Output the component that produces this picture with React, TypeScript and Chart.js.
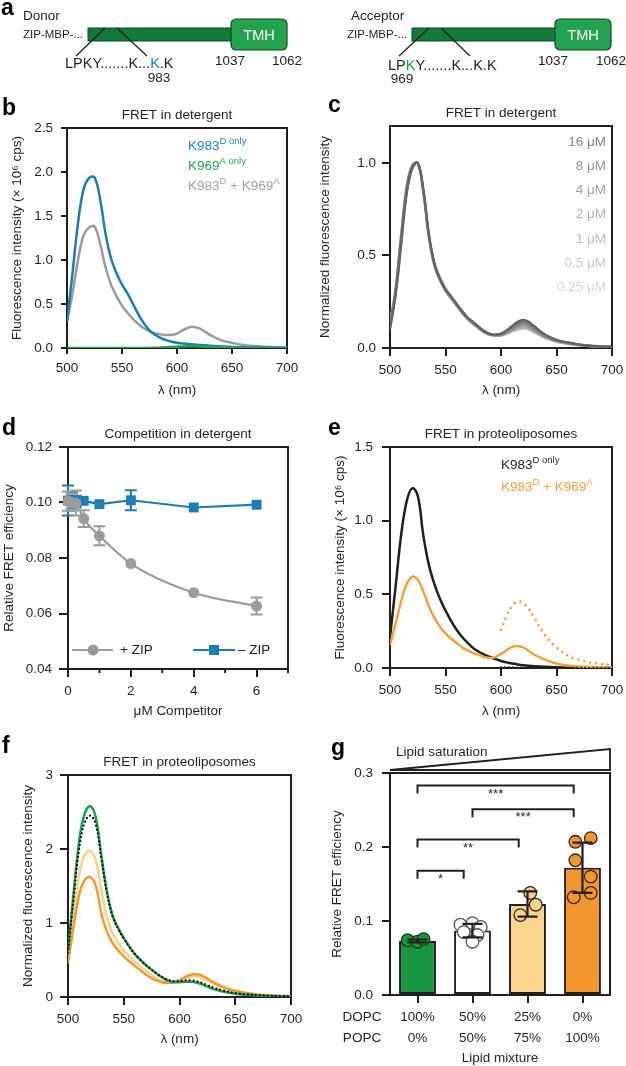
import React, { useEffect, useRef } from "react";
import { Chart, registerables } from "chart.js";

Chart.register(...registerables);

const FONT = "'Liberation Sans', Arial, Helvetica, sans-serif";
const INK = "#231f20";
const FS = 13.5;

// ---------------- data ----------------
const WL = [500, 505, 510, 515, 520, 525, 530, 535, 540, 545, 550, 555, 560, 565, 570, 575, 580, 585, 590, 595, 600, 605, 610, 615, 620, 625, 630, 640, 650, 660, 670, 680, 690, 700];
const WL_TICKS = [500, 550, 600, 650, 700];

// panel b
const B_DONOR = [0.3, 0.85, 1.42, 1.8, 1.93, 1.94, 1.7, 1.3, 1.02, 0.85, 0.72, 0.62, 0.5, 0.38, 0.28, 0.2, 0.15, 0.115, 0.09, 0.072, 0.06, 0.052, 0.045, 0.04, 0.035, 0.03, 0.026, 0.018, 0.012, 0.008, 0.005, 0.003, 0.002, 0.001];
const B_ACCEPTOR = [0, 0, 0, 0, 0, 0, 0, 0, 0, 0, 0, 0, 0, 0, 0, 0, 0.002, 0.005, 0.008, 0.012, 0.015, 0.018, 0.02, 0.02, 0.018, 0.015, 0.012, 0.008, 0.005, 0.003, 0.002, 0.001, 0, 0];
const B_FRET = [0.3, 0.62, 1.0, 1.28, 1.37, 1.38, 1.19, 0.92, 0.72, 0.59, 0.48, 0.4, 0.33, 0.27, 0.225, 0.19, 0.168, 0.155, 0.148, 0.148, 0.165, 0.2, 0.232, 0.24, 0.225, 0.19, 0.15, 0.09, 0.058, 0.035, 0.022, 0.014, 0.009, 0.006];
const B_Y_TICKS = [0, 0.5, 1, 1.5, 2, 2.5];

// panel c
const C_16 = [0.1, 0.28, 0.55, 0.83, 0.97, 1.0, 0.86, 0.62, 0.46, 0.38, 0.32, 0.28, 0.24, 0.2, 0.165, 0.14, 0.115, 0.092, 0.077, 0.072, 0.078, 0.095, 0.12, 0.142, 0.152, 0.142, 0.118, 0.072, 0.045, 0.03, 0.02, 0.013, 0.009, 0.006];
const C_8 = [0.11, 0.3, 0.58, 0.85, 0.98, 1.0, 0.85, 0.61, 0.455, 0.375, 0.318, 0.278, 0.238, 0.198, 0.163, 0.138, 0.113, 0.09, 0.075, 0.071, 0.076, 0.092, 0.115, 0.135, 0.145, 0.136, 0.113, 0.069, 0.043, 0.029, 0.019, 0.012, 0.008, 0.006];
const C_4 = [0.12, 0.31, 0.6, 0.86, 0.98, 1.0, 0.85, 0.605, 0.45, 0.372, 0.315, 0.275, 0.235, 0.196, 0.161, 0.136, 0.111, 0.088, 0.074, 0.07, 0.074, 0.089, 0.11, 0.128, 0.137, 0.129, 0.107, 0.066, 0.041, 0.028, 0.018, 0.012, 0.008, 0.005];
const C_2 = [0.11, 0.29, 0.57, 0.84, 0.97, 1.0, 0.86, 0.61, 0.452, 0.37, 0.313, 0.273, 0.233, 0.194, 0.159, 0.134, 0.109, 0.087, 0.073, 0.069, 0.072, 0.085, 0.104, 0.12, 0.128, 0.121, 0.101, 0.062, 0.039, 0.026, 0.017, 0.011, 0.007, 0.005];
const C_1 = [0.13, 0.32, 0.61, 0.87, 0.99, 1.0, 0.84, 0.6, 0.448, 0.368, 0.31, 0.27, 0.23, 0.191, 0.157, 0.132, 0.107, 0.085, 0.072, 0.068, 0.07, 0.082, 0.099, 0.113, 0.12, 0.114, 0.095, 0.059, 0.037, 0.025, 0.016, 0.011, 0.007, 0.005];
const C_05 = [0.12, 0.3, 0.59, 0.86, 0.98, 1.0, 0.85, 0.6, 0.446, 0.366, 0.308, 0.268, 0.228, 0.189, 0.155, 0.13, 0.105, 0.084, 0.071, 0.067, 0.068, 0.079, 0.094, 0.106, 0.112, 0.107, 0.089, 0.056, 0.035, 0.024, 0.016, 0.01, 0.007, 0.005];
const C_025 = [0.14, 0.33, 0.62, 0.88, 0.99, 1.0, 0.84, 0.595, 0.444, 0.364, 0.306, 0.266, 0.226, 0.187, 0.153, 0.128, 0.104, 0.083, 0.07, 0.066, 0.066, 0.076, 0.089, 0.099, 0.104, 0.1, 0.084, 0.053, 0.033, 0.022, 0.015, 0.01, 0.006, 0.004];
const C_SERIES = [C_16, C_8, C_4, C_2, C_1, C_05, C_025];
const C_LABELS = ["16 μM", "8 μM", "4 μM", "2 μM", "1 μM", "0.5 μM", "0.25 μM"];
const C_LINE_COLORS = ["#646464", "#717171", "#7f7f7f", "#8d8d8d", "#9c9c9c", "#ababab", "#bcbcbc"];
const C_TEXT_COLORS = ["#878787", "#959595", "#a3a3a3", "#b0b0b0", "#bdbdbd", "#c9c9c9", "#d6d6d6"];
const C_Y_TICKS = [0, 0.5, 1];

// panel d
const D_CONC = [0, 0.125, 0.25, 0.5, 1, 2, 4, 6];
const D_ZIP = [0.1005, 0.1, 0.0998, 0.0942, 0.088, 0.078, 0.0675, 0.0627];
const D_ZIP_ERR = [0.0035, 0.003, 0.0045, 0.003, 0.0034, 0, 0, 0.0031];
const D_NOZIP = [0.1007, 0.1008, 0.1003, 0.1006, 0.0994, 0.1008, 0.0982, 0.0992];
const D_NOZIP_ERR = [0.0054, 0.003, 0.002, 0, 0, 0.0036, 0, 0];
const D_X_TICKS = [0, 1, 2, 3, 4, 5, 6, 7];
const D_Y_TICKS = [0.04, 0.06, 0.08, 0.1, 0.12];

// panel e
const E_DONOR = [0.21, 0.55, 0.9, 1.13, 1.22, 1.17, 0.9, 0.7, 0.57, 0.47, 0.39, 0.32, 0.26, 0.21, 0.17, 0.135, 0.11, 0.09, 0.075, 0.06, 0.048, 0.038, 0.03, 0.024, 0.019, 0.015, 0.012, 0.008, 0.005, 0.003, 0.002, 0.001, 0.001, 0];
const E_FRET = [0.156, 0.3, 0.45, 0.57, 0.62, 0.6, 0.52, 0.42, 0.34, 0.28, 0.235, 0.2, 0.17, 0.14, 0.12, 0.1, 0.088, 0.075, 0.068, 0.075, 0.095, 0.12, 0.143, 0.15, 0.14, 0.115, 0.09, 0.055, 0.03, 0.017, 0.01, 0.007, 0.005, 0.004];
const E_ACC_DIRECT = [null, null, null, null, null, null, null, null, null, null, null, null, null, null, null, null, null, null, null, null, 0.26, 0.35, 0.42, 0.45, 0.44, 0.4, 0.34, 0.22, 0.14, 0.085, 0.055, 0.038, 0.028, 0.02];
const E_DONOR_DIRECT = [null, null, null, null, null, null, null, null, null, null, null, null, null, null, null, null, null, null, null, null, 0.004, 0.004, 0.004, 0.003, 0.003, 0.003, 0.002, 0.002, 0.001, 0.001, 0.001, 0, 0, 0];
const E_Y_TICKS = [0, 0.5, 1, 1.5];

// panel f
const F_DOPC = [0.62, 1.4, 2.1, 2.48, 2.58, 2.42, 1.9, 1.42, 1.1, 0.93, 0.8, 0.68, 0.58, 0.5, 0.43, 0.37, 0.31, 0.26, 0.22, 0.2, 0.2, 0.205, 0.205, 0.195, 0.17, 0.14, 0.11, 0.07, 0.045, 0.03, 0.02, 0.014, 0.01, 0.008];
const F_DOTTED = [0.6, 1.33, 2.0, 2.36, 2.45, 2.33, 1.86, 1.4, 1.09, 0.92, 0.79, 0.68, 0.58, 0.5, 0.43, 0.37, 0.31, 0.265, 0.23, 0.215, 0.215, 0.225, 0.225, 0.215, 0.19, 0.16, 0.13, 0.085, 0.055, 0.037, 0.026, 0.018, 0.012, 0.009];
const F_25 = [0.55, 1.15, 1.65, 1.92, 1.97, 1.84, 1.45, 1.08, 0.86, 0.73, 0.63, 0.55, 0.48, 0.41, 0.35, 0.3, 0.25, 0.215, 0.2, 0.2, 0.22, 0.25, 0.27, 0.28, 0.26, 0.22, 0.18, 0.12, 0.078, 0.05, 0.032, 0.02, 0.014, 0.01];
const F_POPC = [0.46, 0.95, 1.38, 1.58, 1.62, 1.5, 1.12, 0.88, 0.73, 0.63, 0.55, 0.48, 0.42, 0.36, 0.3, 0.255, 0.22, 0.197, 0.19, 0.2, 0.23, 0.27, 0.3, 0.31, 0.29, 0.25, 0.2, 0.13, 0.085, 0.055, 0.035, 0.022, 0.015, 0.01];
const F_Y_TICKS = [0, 1, 2, 3];

// panel g
const G_DOPC = ["100%", "50%", "25%", "0%"];
const G_POPC = ["0%", "50%", "75%", "100%"];
const G_MEANS = [0.073, 0.087, 0.123, 0.172];
const G_SD = [0.002, 0.009, 0.017, 0.034];
const G_PTS_0 = [0.074, 0.072, 0.0755];
const G_JIT_0 = [-0.18, 0, 0.11];
const G_PTS_1 = [0.095, 0.097, 0.092, 0.085, 0.081, 0.072];
const G_JIT_1 = [-0.22, 0, 0.15, -0.16, 0.09, 0];
const G_PTS_2 = [0.138, 0.122, 0.108];
const G_JIT_2 = [0.05, 0.15, -0.13];
const G_PTS_3 = [0.207, 0.212, 0.182, 0.16, 0.132, 0.138];
const G_JIT_3 = [-0.13, 0.15, -0.13, 0.15, -0.16, 0.15];
const G_POINTS = [G_PTS_0, G_PTS_1, G_PTS_2, G_PTS_3];
const G_JITTER = [G_JIT_0, G_JIT_1, G_JIT_2, G_JIT_3];
const G_BRACKET_FROM = [0, 1, 0, 0];
const G_BRACKET_TO = [3, 3, 2, 1];
const G_BRACKET_Y = [0.283, 0.251, 0.21, 0.168];
const G_BRACKET_TXT = ["***", "***", "**", "*"];
const G_Y_TICKS = [0, 0.1, 0.2, 0.3];

// ---------------- colours ----------------
const BLUE = "#1b7db3";
const GREEN = "#22a34b";
const GRAY = "#9b9b9b";
const ORANGE = "#f09a34";
const LIGHT_ORANGE = "#fcd18c";
const F_GREEN = "#1f9b4a";
const G_FILL = ["#1b9640", "#ffffff", "#fcd38c", "#f0962d"];
const G_STROKE = ["#1a3d22", "#555555", "#3a2a14", "#3a2410"];

type Part = { t: string; sup?: boolean };
const B_LEGEND: Part[][] = [
  [{ t: "K983" }, { t: "D only", sup: true }],
  [{ t: "K969" }, { t: "A only", sup: true }],
  [{ t: "K983" }, { t: "D", sup: true }, { t: " + K969" }, { t: "A", sup: true }],
];
const B_LEGEND_COLORS = ["#2384bb", "#25a44e", "#a3a3a3"];
const E_LEGEND: Part[][] = [
  [{ t: "K983" }, { t: "D only", sup: true }],
  [{ t: "K983" }, { t: "D", sup: true }, { t: " + K969" }, { t: "A", sup: true }],
];
const E_LEGEND_COLORS = [INK, "#f2a03c"];

// ---------------- helpers ----------------
const series = (vals: (number | null)[]) => WL.map((x, i) => ({ x, y: vals[i] }));

function line(vals: (number | null)[], color: string, width = 2.5, dash?: number[]) {
  return {
    data: series(vals),
    borderColor: color,
    borderWidth: width,
    pointRadius: 0,
    tension: 0.4,
    borderDash: dash || [],
    borderCapStyle: dash ? "round" : "butt",
    fill: false,
    spanGaps: false,
  };
}

function drawRich(ctx: CanvasRenderingContext2D, parts: Part[], x: number, y: number, color: string, align: "left" | "right" = "left") {
  const base = `${FS}px ${FONT}`;
  const small = `9.5px ${FONT}`;
  ctx.save();
  ctx.fillStyle = color;
  ctx.textBaseline = "middle";
  ctx.textAlign = "left";
  let w = 0;
  for (const p of parts) {
    ctx.font = p.sup ? small : base;
    w += ctx.measureText(p.t).width;
  }
  let cx = align === "left" ? x : x - w;
  for (const p of parts) {
    ctx.font = p.sup ? small : base;
    ctx.fillText(p.t, cx, p.sup ? y - 5 : y);
    cx += ctx.measureText(p.t).width;
  }
  ctx.restore();
}

function axis(o: any) {
  return {
    type: "linear",
    min: o.min,
    max: o.max,
    position: o.vertical ? "left" : "bottom",
    afterBuildTicks: (s: any) => {
      s.ticks = o.ticks.map((v: number) => ({ value: v }));
    },
    afterFit: (s: any) => {
      if (o.vertical) s.width = o.size;
      else {
        s.height = o.size;
        s.paddingLeft = 0;
        s.paddingRight = 0;
      }
    },
    border: { display: false },
    grid: {
      display: true,
      drawOnChartArea: false,
      drawTicks: true,
      tickLength: o.tickLen,
      color: INK,
      lineWidth: 2,
      tickColor: o.tickColor || INK,
    },
    ticks: {
      padding: o.pad,
      color: INK,
      font: { family: FONT, size: FS },
      maxRotation: 0,
      minRotation: 0,
      autoSkip: false,
      callback: o.fmt,
    },
    title: { display: true, text: o.title, color: INK, font: { family: FONT, size: FS }, padding: o.titlePad },
  };
}

const framePlugin = {
  id: "frame",
  beforeDatasetsDraw(chart: any) {
    const { ctx, chartArea: a } = chart;
    ctx.save();
    ctx.strokeStyle = INK;
    ctx.lineWidth = 2;
    ctx.strokeRect(a.left, a.top, a.right - a.left, a.bottom - a.top);
    ctx.restore();
  },
};

function titlePlugin(text: string) {
  return {
    id: "ptitle",
    afterDraw(chart: any) {
      const { ctx, chartArea: a } = chart;
      ctx.save();
      ctx.font = `${FS}px ${FONT}`;
      ctx.fillStyle = INK;
      ctx.textAlign = "center";
      ctx.textBaseline = "middle";
      ctx.fillText(text, (a.left + a.right) / 2, a.top - 13);
      ctx.restore();
    },
  };
}

const baseOptions = (pad: any) => ({
  responsive: false,
  animation: false,
  events: [],
  layout: { padding: { left: 0, bottom: 0, ...pad } },
  plugins: { legend: { display: false }, tooltip: { enabled: false }, title: { display: false } },
});

const f1 = (v: number) => v.toFixed(1);

// ---------------- panels ----------------
function makeB(): any {
  return {
    type: "line",
    data: {
      datasets: [line(B_ACCEPTOR, GREEN), line(B_DONOR, BLUE), line(B_FRET, GRAY)],
    },
    options: {
      ...baseOptions({ top: 38, right: 13 }),
      scales: {
        x: axis({ min: 500, max: 700, ticks: WL_TICKS, fmt: (v: number) => String(v), size: 52, vertical: false, tickLen: 6, pad: 6, title: "λ (nm)", titlePad: { top: 0, bottom: 2 } }),
        y: axis({ min: 0, max: 2.5, ticks: B_Y_TICKS, fmt: f1, size: 67, vertical: true, tickLen: 6, pad: 8, title: "Fluorescence intensity (× 10⁶ cps)", titlePad: { top: 9, bottom: 0 } }),
      },
    },
    plugins: [
      framePlugin,
      titlePlugin("FRET in detergent"),
      {
        id: "bleg",
        afterDraw(chart: any) {
          const { ctx, chartArea: a } = chart;
          B_LEGEND.forEach((parts, i) => drawRich(ctx, parts, a.left + 121, a.top + 18 + i * 20, B_LEGEND_COLORS[i]));
        },
      },
    ],
  };
}

function makeC(): any {
  return {
    type: "line",
    data: { datasets: C_SERIES.map((s, i) => line(s, C_LINE_COLORS[i], 2.2)) },
    options: {
      ...baseOptions({ top: 36, right: 14 }),
      scales: {
        x: axis({ min: 500, max: 700, ticks: WL_TICKS, fmt: (v: number) => String(v), size: 52, vertical: false, tickLen: 8, pad: 6, title: "λ (nm)", titlePad: { top: 0, bottom: 2 } }),
        y: axis({ min: 0, max: 1.2, ticks: C_Y_TICKS, fmt: f1, size: 77, vertical: true, tickLen: 8, pad: 6, title: "Normalized fluorescence intensity", titlePad: { top: 4, bottom: 0 } }),
      },
    },
    plugins: [
      framePlugin,
      titlePlugin("FRET in detergent"),
      {
        id: "cleg",
        afterDraw(chart: any) {
          const { ctx, chartArea: a } = chart;
          C_LABELS.forEach((t, i) => drawRich(ctx, [{ t }], a.right - 6, a.top + 16 + i * 24.2, C_TEXT_COLORS[i], "right"));
        },
      },
    ],
  };
}

function makeD(): any {
  const pts = (ys: number[]) => D_CONC.map((x, i) => ({ x, y: ys[i] }));
  return {
    type: "line",
    data: {
      datasets: [
        { data: pts(D_ZIP), borderColor: GRAY, borderWidth: 2.2, cubicInterpolationMode: "monotone", pointRadius: 5.5, pointBackgroundColor: GRAY, pointBorderWidth: 0, clip: false },
        { data: pts(D_NOZIP), borderColor: BLUE, borderWidth: 2.2, tension: 0, pointStyle: "rect", pointRadius: 7, pointBackgroundColor: BLUE, pointBorderWidth: 0, clip: false },
      ],
    },
    options: {
      ...baseOptions({ top: 37, right: 12 }),
      scales: {
        x: axis({
          min: 0, max: 7, ticks: D_X_TICKS, fmt: (v: number) => (v % 2 === 0 ? String(v) : ""), size: 61, vertical: false, tickLen: 8, pad: 6,
          title: "μM Competitor", titlePad: { top: 0, bottom: 11 },
          tickColor: (c: any) => (c.tick && c.tick.value % 2 !== 0 ? "rgba(0,0,0,0)" : INK),
        }),
        y: axis({ min: 0.04, max: 0.12, ticks: D_Y_TICKS, fmt: (v: number) => v.toFixed(2), size: 68, vertical: true, tickLen: 9, pad: 7, title: "Relative FRET efficiency", titlePad: { top: 1, bottom: 0 } }),
      },
    },
    plugins: [
      framePlugin,
      {
        id: "derr",
        beforeDatasetsDraw(chart: any) {
          const { ctx, scales } = chart;
          const { x, y } = scales;
          const sets: [number[], number[], string][] = [[D_NOZIP, D_NOZIP_ERR, BLUE], [D_ZIP, D_ZIP_ERR, GRAY]];
          ctx.save();
          ctx.lineWidth = 2;
          for (const [vals, errs, col] of sets) {
            ctx.strokeStyle = col;
            D_CONC.forEach((c, i) => {
              if (!errs[i]) return;
              const px = x.getPixelForValue(c);
              const y1 = y.getPixelForValue(vals[i] - errs[i]);
              const y2 = y.getPixelForValue(vals[i] + errs[i]);
              ctx.beginPath();
              ctx.moveTo(px, y1); ctx.lineTo(px, y2);
              ctx.moveTo(px - 6, y1); ctx.lineTo(px + 6, y1);
              ctx.moveTo(px - 6, y2); ctx.lineTo(px + 6, y2);
              ctx.stroke();
            });
          }
          ctx.restore();
        },
        afterDraw(chart: any) {
          const { ctx, chartArea: a, scales } = chart;
          ctx.save();
          ctx.strokeStyle = INK;
          ctx.lineWidth = 2;
          [1, 3, 5, 7].forEach((v) => {
            const px = scales.x.getPixelForValue(v);
            ctx.beginPath(); ctx.moveTo(px, a.bottom); ctx.lineTo(px, a.bottom + 4); ctx.stroke();
          });
          const ly = a.bottom - 19;
          ctx.lineWidth = 2.2;
          ctx.strokeStyle = GRAY;
          ctx.beginPath(); ctx.moveTo(a.left + 4, ly); ctx.lineTo(a.left + 45, ly); ctx.stroke();
          ctx.fillStyle = GRAY;
          ctx.beginPath(); ctx.arc(a.left + 25, ly, 5.5, 0, Math.PI * 2); ctx.fill();
          ctx.strokeStyle = BLUE;
          ctx.beginPath(); ctx.moveTo(a.left + 125, ly); ctx.lineTo(a.left + 167, ly); ctx.stroke();
          ctx.fillStyle = BLUE;
          ctx.fillRect(a.left + 141, ly - 5, 10, 10);
          ctx.restore();
          drawRich(ctx, [{ t: "+ ZIP" }], a.left + 52, ly, INK);
          drawRich(ctx, [{ t: "– ZIP" }], a.left + 170, ly, INK);
        },
      },
      titlePlugin("Competition in detergent"),
    ],
  };
}

function makeE(): any {
  return {
    type: "line",
    data: {
      datasets: [
        line(E_DONOR_DIRECT, INK, 2.2, [0.01, 4]),
        line(E_FRET, "#f2a03c"),
        line(E_ACC_DIRECT, "#f2a03c", 2.6, [0.01, 6]),
        line(E_DONOR, INK),
      ],
    },
    options: {
      ...baseOptions({ top: 37, right: 14 }),
      scales: {
        x: axis({ min: 500, max: 700, ticks: WL_TICKS, fmt: (v: number) => String(v), size: 62, vertical: false, tickLen: 8, pad: 6, title: "λ (nm)", titlePad: { top: 0, bottom: 11 } }),
        y: axis({ min: 0, max: 1.5, ticks: E_Y_TICKS, fmt: f1, size: 77, vertical: true, tickLen: 8, pad: 9, title: "Fluorescence intensity (× 10⁶ cps)", titlePad: { top: 19, bottom: 0 } }),
      },
    },
    plugins: [
      framePlugin,
      titlePlugin("FRET in proteoliposomes"),
      {
        id: "eleg",
        afterDraw(chart: any) {
          const { ctx, chartArea: a } = chart;
          E_LEGEND.forEach((parts, i) => drawRich(ctx, parts, a.left + 111, a.top + 18 + i * 22, E_LEGEND_COLORS[i]));
        },
      },
    ],
  };
}

function makeF(): any {
  return {
    type: "line",
    data: {
      datasets: [
        line(F_DOTTED, "#111111", 2.2, [0.01, 4]),
        line(F_DOPC, F_GREEN),
        line(F_POPC, ORANGE),
        line(F_25, LIGHT_ORANGE),
      ],
    },
    options: {
      ...baseOptions({ top: 35, right: 14 }),
      scales: {
        x: axis({ min: 500, max: 700, ticks: WL_TICKS, fmt: (v: number) => String(v), size: 69, vertical: false, tickLen: 8, pad: 6, title: "λ (nm)", titlePad: { top: 0, bottom: 19 } }),
        y: axis({ min: 0, max: 3, ticks: F_Y_TICKS, fmt: (v: number) => String(v), size: 68, vertical: true, tickLen: 8, pad: 7, title: "Normalized fluorescence intensity", titlePad: { top: 20, bottom: 0 } }),
      },
    },
    plugins: [framePlugin, titlePlugin("FRET in proteoliposomes")],
  };
}

function makeG(): any {
  const labels = G_DOPC.map((d, i) => [d, G_POPC[i]]);
  return {
    type: "bar",
    data: {
      labels,
      datasets: [
        {
          data: G_MEANS,
          backgroundColor: G_FILL,
          borderColor: INK,
          borderWidth: 2,
          borderSkipped: false,
          barPercentage: 0.67,
          categoryPercentage: 1,
        },
      ],
    },
    options: {
      ...baseOptions({ top: 33, right: 16 }),
      scales: {
        x: {
          type: "category",
          offset: true,
          afterFit: (s: any) => {
            s.height = 71;
          },
          border: { display: false },
          grid: { display: true, offset: false, drawOnChartArea: false, drawTicks: true, tickLength: 8, color: INK, lineWidth: 2 },
          ticks: { padding: 3.5, color: INK, font: { family: FONT, size: FS, lineHeight: 1.556 }, maxRotation: 0, autoSkip: false },
          title: { display: true, text: "Lipid mixture", color: INK, font: { family: FONT, size: FS }, padding: { top: 0, bottom: 0 } },
        },
        y: axis({ min: 0, max: 0.3, ticks: G_Y_TICKS, fmt: f1, size: 77, vertical: true, tickLen: 8, pad: 9, title: "Relative FRET efficiency", titlePad: { top: 16, bottom: 0 } }),
      },
    },
    plugins: [
      framePlugin,
      {
        id: "gextra",
        afterDatasetsDraw(chart: any) {
          const { ctx, scales } = chart;
          const { x, y } = scales;
          const step = x.getPixelForValue(1) - x.getPixelForValue(0);
          ctx.save();
          G_POINTS.forEach((vals, gi) => {
            vals.forEach((v, k) => {
              const px = x.getPixelForValue(gi) + G_JITTER[gi][k] * step;
              const py = y.getPixelForValue(v);
              ctx.beginPath();
              ctx.arc(px, py, 6.3, 0, Math.PI * 2);
              ctx.fillStyle = G_FILL[gi];
              ctx.fill();
              ctx.lineWidth = 1.3;
              ctx.strokeStyle = G_STROKE[gi];
              ctx.stroke();
            });
          });
          ctx.strokeStyle = INK;
          ctx.lineWidth = 2.2;
          G_MEANS.forEach((m, i) => {
            const px = x.getPixelForValue(i);
            const y1 = y.getPixelForValue(m - G_SD[i]);
            const y2 = y.getPixelForValue(m + G_SD[i]);
            ctx.beginPath();
            ctx.moveTo(px, y1); ctx.lineTo(px, y2);
            ctx.moveTo(px - 10, y1); ctx.lineTo(px + 10, y1);
            ctx.moveTo(px - 10, y2); ctx.lineTo(px + 10, y2);
            ctx.stroke();
          });
          ctx.lineWidth = 2;
          ctx.fillStyle = INK;
          ctx.font = `13px ${FONT}`;
          ctx.textAlign = "center";
          ctx.textBaseline = "top";
          G_BRACKET_Y.forEach((v, k) => {
            const x1 = x.getPixelForValue(G_BRACKET_FROM[k]);
            const x2 = x.getPixelForValue(G_BRACKET_TO[k]) - 0.16 * step;
            const py = y.getPixelForValue(v);
            ctx.beginPath();
            ctx.moveTo(x1, py + 8); ctx.lineTo(x1, py); ctx.lineTo(x2, py); ctx.lineTo(x2, py + 8);
            ctx.stroke();
            ctx.fillText(G_BRACKET_TXT[k], (x1 + x2) / 2, py + 2);
          });
          ctx.restore();
        },
        afterDraw(chart: any) {
          const { ctx, chartArea: a } = chart;
          ctx.save();
          ctx.font = `${FS}px ${FONT}`;
          ctx.fillStyle = INK;
          ctx.textAlign = "center";
          ctx.textBaseline = "middle";
          ctx.fillText("DOPC", a.left - 28, a.bottom + 22);
          ctx.fillText("POPC", a.left - 28, a.bottom + 43);
          ctx.textAlign = "left";
          ctx.fillText("Lipid saturation", a.left + 6, a.top - 21);
          ctx.strokeStyle = INK;
          ctx.lineWidth = 1.8;
          ctx.beginPath();
          ctx.moveTo(a.left, a.top - 3);
          ctx.lineTo(a.right, a.top - 24);
          ctx.lineTo(a.right, a.top - 3);
          ctx.closePath();
          ctx.stroke();
          ctx.restore();
        },
      },
    ],
  };
}

// ---------------- components ----------------
function ChartBox({ x, y, w, h, make }: { x: number; y: number; w: number; h: number; make: () => any }) {
  const ref = useRef<HTMLCanvasElement>(null);
  useEffect(() => {
    if (!ref.current) return;
    const chart = new Chart(ref.current, make());
    return () => chart.destroy();
  }, []);
  return (
    <div style={{ position: "absolute", left: x, top: y, width: w, height: h }}>
      <canvas ref={ref} width={w} height={h} style={{ width: w, height: h, display: "block" }} />
    </div>
  );
}

function PanelA() {
  const dark = "#127a3b";
  const tmh = "#24a34e";
  const edge = "#0b4d24";
  return (
    <g fontFamily={FONT} fill={INK}>
      <text x={23} y={20} fontSize={13.5}>Donor</text>
      <text x={23} y={38} fontSize={11.5}>ZIP-MBP-...</text>
      <rect x={88} y={28} width={145} height={13} fill={dark} stroke={edge} strokeWidth={1} />
      <rect x={231} y={19} width={56} height={31} rx={5} fill={tmh} stroke={edge} strokeWidth={1.2} />
      <text x={259} y={40} fontSize={14.5} fill="#ffffff" textAnchor="middle">TMH</text>
      <line x1={105} y1={28} x2={76} y2={56} stroke={INK} strokeWidth={1.3} />
      <line x1={117} y1={28} x2={147} y2={56} stroke={INK} strokeWidth={1.3} />
      <text x={65} y={68} fontSize={14.5}>
        LPKY.......K...<tspan fill="#1b82b8">K</tspan>.K
      </text>
      <text x={159} y={82} fontSize={13.5} textAnchor="middle">983</text>
      <text x={230} y={65} fontSize={13.5} textAnchor="middle">1037</text>
      <text x={287} y={65} fontSize={13.5} textAnchor="middle">1062</text>

      <text x={351} y={20} fontSize={13.5}>Acceptor</text>
      <text x={347} y={38} fontSize={11.5}>ZIP-MBP-...</text>
      <rect x={412} y={28} width={144} height={13} fill={dark} stroke={edge} strokeWidth={1} />
      <rect x={555} y={19} width={56} height={31} rx={5} fill={tmh} stroke={edge} strokeWidth={1.2} />
      <text x={583} y={40} fontSize={14.5} fill="#ffffff" textAnchor="middle">TMH</text>
      <line x1={429} y1={28} x2={399} y2={56} stroke={INK} strokeWidth={1.3} />
      <line x1={441} y1={28} x2={470} y2={56} stroke={INK} strokeWidth={1.3} />
      <text x={388} y={70} fontSize={14.5}>
        LP<tspan fill="#1f9a4a">K</tspan>Y.......K...K.K
      </text>
      <text x={402} y={83} fontSize={13.5} textAnchor="middle">969</text>
      <text x={553} y={65} fontSize={13.5} textAnchor="middle">1037</text>
      <text x={611} y={65} fontSize={13.5} textAnchor="middle">1062</text>
    </g>
  );
}

const PANEL_LETTERS: [string, number, number][] = [
  ["a", 1, 15],
  ["b", 2, 115],
  ["c", 328, 112],
  ["d", 2, 435],
  ["e", 328, 435],
  ["f", 2, 753],
  ["g", 331, 755],
];

export default function App() {
  return (
    <div style={{ position: "absolute", left: 0, top: 0, width: 626, height: 1066, background: "#ffffff", overflow: "hidden" }}>
      <ChartBox x={0} y={90} w={300} h={310} make={makeB} />
      <ChartBox x={313} y={90} w={313} h={310} make={makeC} />
      <ChartBox x={0} y={410} w={300} h={320} make={makeD} />
      <ChartBox x={313} y={410} w={313} h={320} make={makeE} />
      <ChartBox x={0} y={740} w={305} h={326} make={makeF} />
      <ChartBox x={313} y={740} w={313} h={326} make={makeG} />
      <svg width={626} height={1066} style={{ position: "absolute", left: 0, top: 0, pointerEvents: "none" }}>
        <PanelA />
        {PANEL_LETTERS.map(([t, x, y]) => (
          <text key={t} x={x} y={y} fontFamily={FONT} fontSize={23} fontWeight="bold" fill="#000">
            {t}
          </text>
        ))}
      </svg>
    </div>
  );
}
